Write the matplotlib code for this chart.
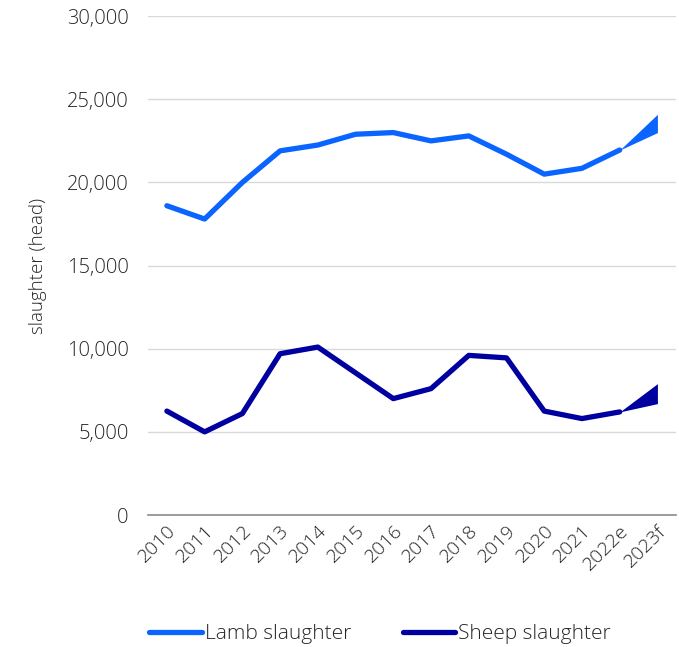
import numpy as np
import matplotlib.pyplot as plt
from matplotlib.ticker import FuncFormatter

plt.rcParams['font.family'] = ['Open Sans', 'DejaVu Sans']
plt.rcParams['font.weight'] = 'light'
plt.rcParams['axes.labelweight'] = 'light'

years = ['2010', '2011', '2012', '2013', '2014', '2015', '2016', '2017',
         '2018', '2019', '2020', '2021', '2022e', '2023f']

# actuals up to 2022e, forecast range for 2023f
lamb = [18600, 17800, 20000, 21900, 22250, 22900, 23000, 22500,
        22800, 21700, 20500, 20850, 21950]
sheep = [6250, 5000, 6100, 9700, 10100, 8550, 7000, 7600,
         9600, 9450, 6250, 5800, 6200]
lamb_2023_low, lamb_2023_high = 23000, 24100
sheep_2023_low, sheep_2023_high = 6700, 7900

lamb_col = '#0A64FF'
sheep_col = '#0000A0'
txt_col = '#262626'

fig = plt.figure(figsize=(6.79, 6.47), dpi=100)
ax = fig.add_axes([0.218, 0.204, 0.778, 0.771])

x = np.arange(len(years))
n = len(lamb)

ax.plot(x[:n], lamb, color=lamb_col, lw=3.8, solid_capstyle='round',
        solid_joinstyle='round', label='Lamb slaughter', zorder=3)
ax.plot(x[:n], sheep, color=sheep_col, lw=3.8, solid_capstyle='round',
        solid_joinstyle='round', label='Sheep slaughter', zorder=3)

# forecast fans
xf = x[n - 1:n + 1]
ax.fill_between(xf, [lamb[-1], lamb_2023_low], [lamb[-1], lamb_2023_high],
                color=lamb_col, lw=0, zorder=3)
ax.fill_between(xf, [sheep[-1], sheep_2023_low], [sheep[-1], sheep_2023_high],
                color=sheep_col, lw=0, zorder=3)

ax.set_xlim(-0.5, len(years) - 0.5)
ax.set_ylim(0, 30000)
ax.set_yticks(range(0, 30001, 5000))
ax.yaxis.set_major_formatter(FuncFormatter(lambda v, p: f'{int(v):,}'))
ax.set_xticks(x)
ax.set_xticklabels(years, rotation=45, ha='right', rotation_mode='anchor')

ax.grid(axis='y', color='#D9D9D9', lw=1)
ax.set_axisbelow(True)
for s in ['top', 'right', 'left']:
    ax.spines[s].set_visible(False)
ax.spines['bottom'].set_color('#8C8C8C')
ax.spines['bottom'].set_linewidth(1.2)
ax.tick_params(axis='y', length=0, labelsize=14.5, colors=txt_col, pad=14)
ax.tick_params(axis='x', length=0, labelsize=14, colors=txt_col, pad=5)

ax.set_ylabel('slaughter (head)', fontsize=13.5, color=txt_col, labelpad=14,
              fontweight='light')

fig.legend(loc='center', bbox_to_anchor=(0.56, 0.02), ncol=2, frameon=False,
           fontsize=15, handlelength=2.5, handletextpad=0.15, columnspacing=2.5,
           labelcolor=txt_col)

fig.savefig('out.png', dpi=100)
